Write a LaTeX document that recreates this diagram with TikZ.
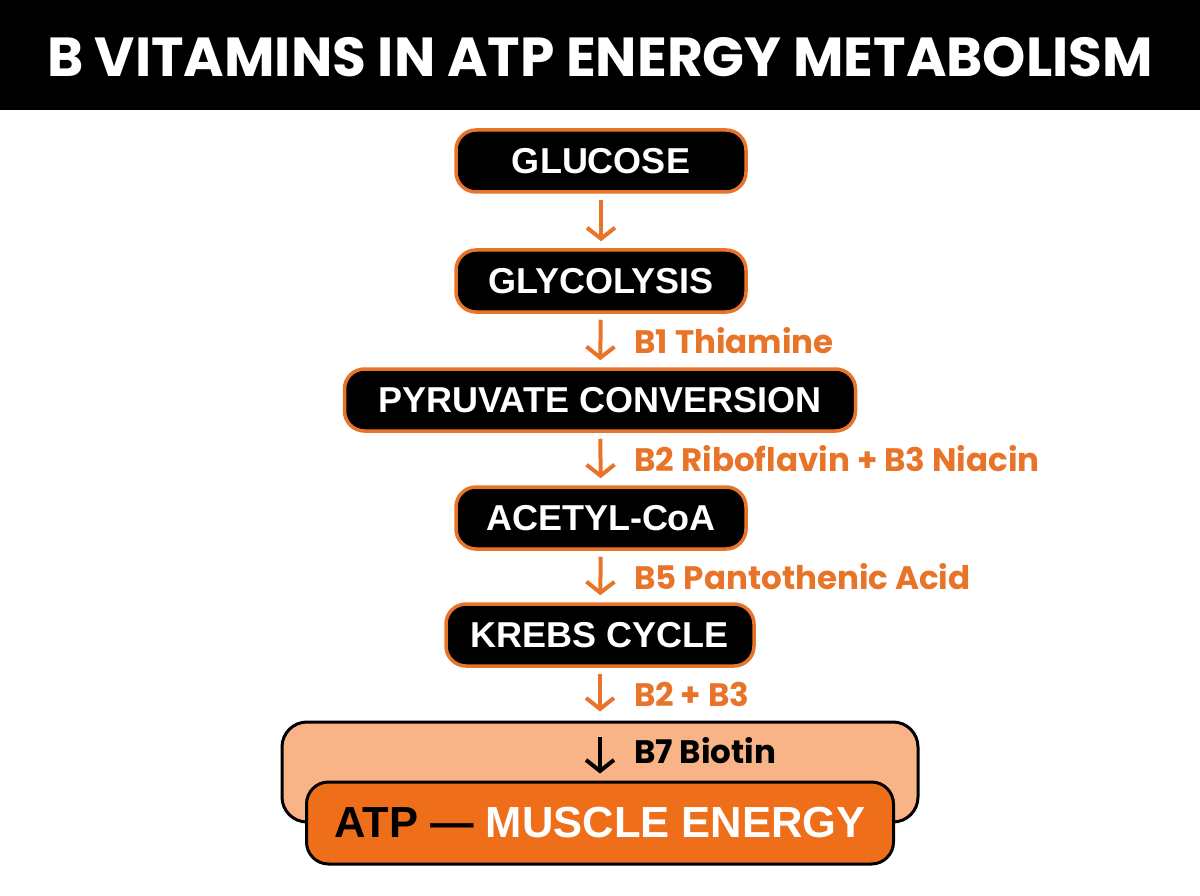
\documentclass[tikz,border=0pt]{standalone}
\usepackage{fontspec}
\setmainfont{Liberation Sans}
\newfontfamily\popfont{Poppins}
\usetikzlibrary{arrows.meta}
\definecolor{vitorange}{HTML}{E8742A}
\definecolor{atporange}{HTML}{EE6E1A}
\definecolor{peach}{HTML}{F8B487}
\tikzset{
 stepnode/.style={draw=vitorange, line width=3.5pt, fill=black, rounded corners=20pt, text=white,
  font=\fontsize{36}{36}\selectfont\bfseries, minimum height=62pt, inner xsep=0pt},
 flow/.style={line width=4pt, vitorange, -{Straight Barb[length=11pt,width=28pt]},
  shorten <=6pt, shorten >=7pt},
 vitlabel/.style={anchor=west, inner sep=0pt, xshift=32pt, text=vitorange,
  font=\popfont\fontsize{32.5}{32.5}\selectfont\bfseries}
}
\begin{document}
\begin{tikzpicture}[x=1pt,y=-1pt]
\useasboundingbox (0,0) rectangle (1200,896);
\fill[black] (0,0) rectangle (1200,110);
\node[text=white, font=\popfont\fontsize{55}{55}\selectfont\bfseries] at (600,57) (title) {B VITAMINS IN ATP ENERGY METABOLISM};

% pathway steps
\node[stepnode, minimum width=290pt] at (601,161) (glucose) {GLUCOSE};
\node[stepnode, minimum width=290pt] at (601,281) (glycolysis) {GLYCOLYSIS};
\node[stepnode, minimum width=511pt] at (600,400) (pyruvate) {PYRUVATE CONVERSION};
\node[stepnode, minimum width=290pt] at (601,518) (acetyl) {ACETYL-CoA};
\node[stepnode, minimum width=308pt] at (600,635) (krebs) {KREBS CYCLE};

% energy output
\node[draw=black, fill=peach, line width=3pt, rounded corners=25pt, minimum width=636pt, minimum height=100pt] at (600,772) (tank) {};
\node[draw=black, fill=atporange, line width=3pt, rounded corners=22pt, minimum width=587pt, minimum height=82pt,
  text=white, font=\fontsize{43.5}{43.5}\selectfont\bfseries] at (600,823) (atp) {\textcolor{black}{ATP —} MUSCLE ENERGY};

\draw[flow] (glucose) -- (glycolysis);
\draw[flow] (glycolysis) -- node[vitlabel] {B1 Thiamine} (pyruvate);
\draw[flow] (pyruvate) -- node[vitlabel] {B2 Riboflavin + B3 Niacin} (acetyl);
\draw[flow] (acetyl) -- node[vitlabel] {B5 Pantothenic Acid} (krebs);
\draw[flow, shorten >=9pt] (krebs) -- node[vitlabel] {B2 + B3} (tank.north);
\draw[flow, black, shorten <=16pt] (tank.north) -- node[vitlabel, text=black] {B7 Biotin} (atp.north);
\end{tikzpicture}
\end{document}
